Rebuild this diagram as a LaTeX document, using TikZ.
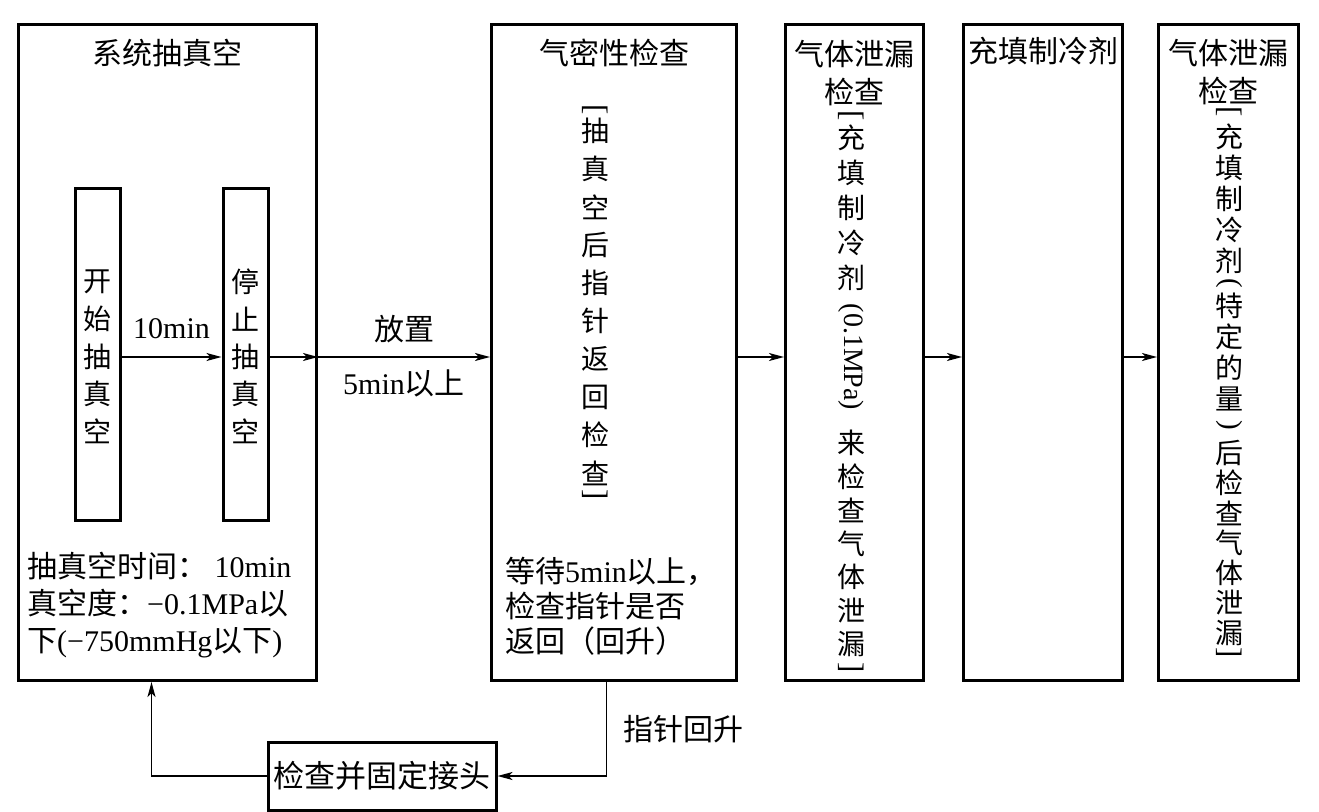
\documentclass[tikz,border=0pt]{standalone}
\usepackage{fontspec}
\setmainfont{Liberation Serif}
\newfontfamily\cjk{Noto Sans CJK SC}
\usetikzlibrary{arrows.meta,positioning}
\newcommand\zh[1]{{\cjk #1}}
\newcommand\turn[1]{\rotatebox{-90}{#1}}
% one column of upright characters, one node each
\newcommand\vcol[5]{%
  \foreach \zc [count=\k from 0] in {#5}
    \node[vch] (#1\k) at (#2,{#3+#4*\k}) {\zc};}

\begin{document}
\begin{tikzpicture}[x=1pt,y=-1pt,
    box/.style={draw,line width=3pt,inner sep=0pt,minimum height=656pt},
    inbox/.style={draw,line width=3pt,inner sep=0pt,minimum width=45pt,minimum height=332pt},
    txt/.style={inner sep=0pt,font=\fontsize{30}{37}\selectfont},
    ttl/.style={inner sep=0pt,align=center,font=\cjk\fontsize{30}{38}\selectfont},
    vch/.style={inner sep=0pt,font=\cjk\fontsize{28}{28}\selectfont},
    brk/.style={inner sep=0pt,font=\fontsize{31}{31}\selectfont},
    flow/.style={->,line width=1.3pt},
    >={Stealth[length=15pt,width=8pt,inset=4pt]}]
\useasboundingbox (0,0) rectangle (1319,811);

% main steps
\node[box,minimum width=298pt,anchor=north west] (b1) at (17,23) {};
\node[box,minimum width=245pt,right=172pt of b1] (b2) {};
\node[box,minimum width=138pt,right=46pt of b2] (b3) {};
\node[box,minimum width=159pt,right=37pt of b3] (b4) {};
\node[box,minimum width=140pt,right=33pt of b4] (b5) {};

\node[ttl] (t1) at ([yshift=-30pt]b1.north) {系统抽真空};
\node[ttl] (t2) at ([yshift=-30pt]b2.north) {气密性检查};
\node[ttl] (t3) at ([yshift=-50pt]b3.north) {气体泄漏\\检查};
\node[ttl] (t4) at ([yshift=-28pt]b4.north) {充填制冷剂};
\node[ttl] (t5) at ([yshift=-49pt]b5.north) {气体泄漏\\检查};

% inside the first step
\node[inbox] (sa) at (97.5,354) {};
\node[inbox,right=100pt of sa] (sb) {};
\vcol{sac}{97.5}{282}{37.3}{开,始,抽,真,空}
\vcol{sbc}{245.5}{282}{37.3}{停,止,抽,真,空}
\node[txt,align=left,anchor=north west] (n1) at (27,552)
  {\zh{抽真空时间：}\ 10min\\\zh{真空度：}−0.1MPa\zh{以}\\\zh{下}(−750mmHg\zh{以下})};

% leak check
\node[brk] (kt) at (595,110) {\turn{[}};
\vcol{kc}{595}{131}{38}{抽,真,空,后,指,针,返,回,检,查}
\node[brk] (kb) at (595,495) {\turn{]}};
\node[txt,align=left,anchor=north west,font=\fontsize{30}{35}\selectfont] (n2) at (505,557)
  {\zh{等待}5min\zh{以上，}\\\zh{检查指针是否}\\\zh{返回（回升）}};

% gas leak check
\node[brk] (gt) at (851,116) {\turn{[}};
\vcol{gc}{851}{138}{35}{充,填,制,冷,剂}
\node[txt,font=\fontsize{28}{28}\selectfont] (gm) at (851,357) {\turn{(0.1MPa)}};
\vcol{gd}{851}{443}{33.5}{来,检,查,气,体,泄,漏}
\node[brk] (gb) at (851,668) {\turn{]}};

% final check
\node[brk] (et) at (1229,112) {\turn{[}};
\vcol{ec}{1229}{137}{31}{充,填,制,冷,剂}
\node[brk,font=\fontsize{29}{29}\selectfont] (eo) at (1229,283) {\turn{(}};
\vcol{ed}{1229}{306}{31}{特,定,的,量}
\node[brk,font=\fontsize{29}{29}\selectfont] (ef) at (1229,425) {\turn{)}};
\vcol{ee}{1229}{453}{30}{后,检,查,气,体,泄,漏}
\node[brk] (eb) at (1229,653) {\turn{]}};

\node[draw,line width=3pt,inner sep=0pt,minimum width=228pt,minimum height=68pt,
      font=\cjk\fontsize{31}{31}\selectfont] (fix) at (382,776) {检查并固定接头};

% connectors
\coordinate (lvl) at (0,357);
\draw[flow] (sa.east |- lvl) -- node[txt,above=18pt] (l1) {10min} (sb.west |- lvl);
\draw[flow] (sb.east |- lvl) -- (b1.east |- lvl);
\draw[flow] (b1.east |- lvl) -- node[ttl,above=13pt] (l2) {放置}
  node[txt,below=12pt] (l3) {5min\zh{以上}} (b2.west |- lvl);
\draw[flow] (b2.east |- lvl) -- (b3.west |- lvl);
\draw[flow] (b3.east |- lvl) -- (b4.west |- lvl);
\draw[flow] (b4.east |- lvl) -- (b5.west |- lvl);

\draw[->,line width=1.8pt] ([xshift=-7.5pt]b2.south) |- node[pos=0.25,right=16pt,ttl] (l4) {指针回升} (fix.east);
\draw[->,line width=1.8pt] (fix.west) -| ([xshift=-16pt]b1.south);

\end{tikzpicture}
\end{document}
